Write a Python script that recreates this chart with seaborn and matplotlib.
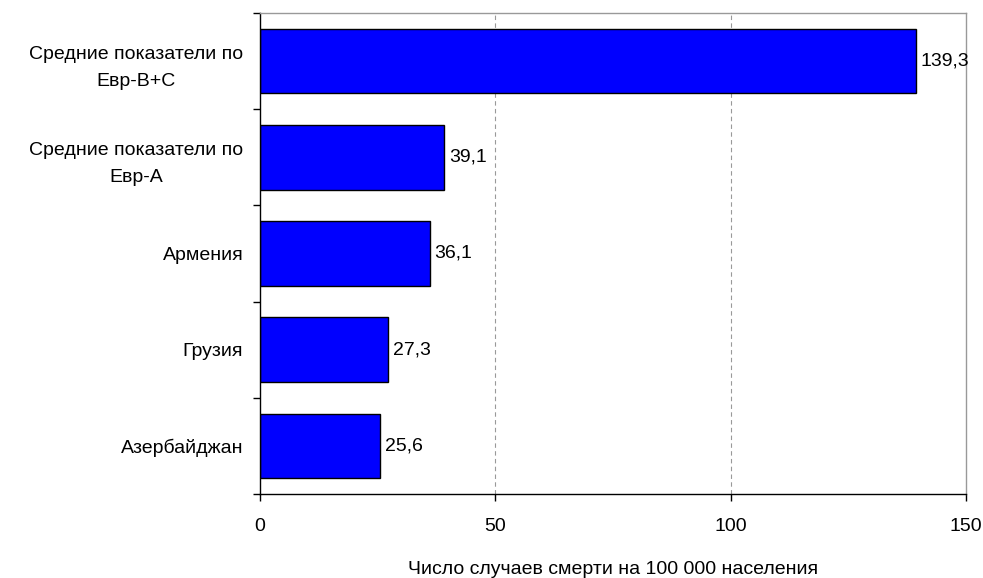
import matplotlib
matplotlib.use("Agg")
import matplotlib.pyplot as plt
import seaborn as sns
import pandas as pd

categories = ["Средние показатели по\nЕвр-В+С", "Средние показатели по\nЕвр-А", "Армения", "Грузия", "Азербайджан"]
values = [139.3, 39.1, 36.1, 27.3, 25.6]
xticks = [0, 50, 100, 150]
xlabel = "Число случаев смерти на 100 000 населения"

sns.set_theme(style="white")
plt.rcParams['font.family'] = ['Liberation Sans', 'DejaVu Sans']
plt.rcParams['text.color'] = 'black'
plt.rcParams['axes.labelcolor'] = 'black'
plt.rcParams['xtick.color'] = 'black'
plt.rcParams['ytick.color'] = 'black'

df = pd.DataFrame({"cat": categories, "val": values})

fig = plt.figure(figsize=(9.83, 5.78), dpi=100)
ax = fig.add_axes([260/983, 1 - 494/578, (966-260)/983, (494-13)/578])

sns.barplot(data=df, y="cat", x="val", orient="h", color="#0000FF",
            edgecolor="black", linewidth=1, width=0.67, ax=ax, saturation=1)

ax.set_xlim(0, 150)
ax.set_ylim(len(categories) - 0.5, -0.5)
ax.set_xticks(xticks)
ax.set_xticklabels([str(t) for t in xticks], fontsize=14)
ax.tick_params(axis='x', which='major', direction='out', length=5, width=1, color='black', pad=12, bottom=True)
ax.set_xlabel(xlabel, fontsize=14, labelpad=19)
ax.set_ylabel("")

ax.set_yticks([i for i in range(len(categories))])
ax.set_yticklabels(categories, fontsize=14, ha='right', multialignment='center', linespacing=1.75)
ax.tick_params(axis='y', which='major', length=0, pad=12)
ax.set_yticks([i - 0.5 for i in range(len(categories) + 1)], minor=True)
ax.tick_params(axis='y', which='minor', direction='out', length=5, width=1, color='black', left=True)

for x in [50, 100]:
    ax.axvline(x, color='#999999', linestyle=(0, (4, 3)), linewidth=0.8, zorder=0)

for s in ['left', 'bottom']:
    ax.spines[s].set_color('black')
    ax.spines[s].set_linewidth(1)
for s in ['top', 'right']:
    ax.spines[s].set_color('#999999')
    ax.spines[s].set_linewidth(1)

for i, v in enumerate(values):
    ax.text(v + 1, i, f"{v:.1f}".replace('.', ','), va='center', ha='left', fontsize=14, color='black')

fig.savefig("out.png", dpi=100)
